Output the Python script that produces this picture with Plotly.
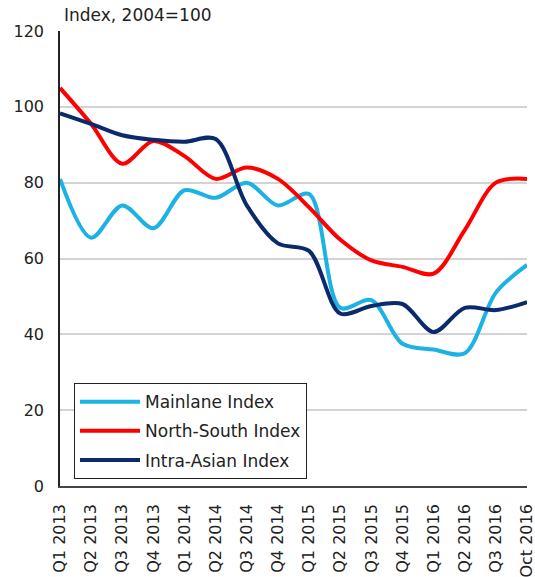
import plotly.graph_objects as go

categories = ["Q1 2013", "Q2 2013", "Q3 2013", "Q4 2013", "Q1 2014", "Q2 2014",
              "Q3 2014", "Q4 2014", "Q1 2015", "Q2 2015", "Q3 2015", "Q4 2015",
              "Q1 2016", "Q2 2016", "Q3 2016", "Oct 2016"]

mainlane = [81, 65.5, 74, 68, 78, 76, 80, 74, 77, 47, 49, 37.5, 36, 35, 51, 58.3]
north_south = [105, 95.5, 85, 91, 87, 81, 84, 81, 73.5, 65, 59.5, 57.8, 56, 67.5, 80, 81]
intra_asian = [98.3, 95.5, 92.5, 91.3, 90.8, 91.5, 74, 64, 62, 45.5, 47.5, 48, 40.6, 47, 46.4, 48.5]

y_ticks = [0, 20, 40, 60, 80, 100, 120]

series = [
    ("Mainlane Index", mainlane, "#1cb2e4"),
    ("North-South Index", north_south, "#ff0000"),
    ("Intra-Asian Index", intra_asian, "#0b2a6b"),
]

FONT = "DejaVu Sans, Liberation Sans, Arial, sans-serif"

fig = go.Figure()
for i, (name, vals, col) in enumerate(series):
    fig.add_trace(go.Scatter(
        x=categories, y=vals, name=name, mode="lines", legendgroup=f"g{i}",
        line=dict(color=col, width=4, shape="spline", smoothing=0.9),
    ))

fig.update_layout(
    width=535, height=577,
    margin=dict(l=60, r=8, t=31, b=91),
    paper_bgcolor="white", plot_bgcolor="white",
    font=dict(family=FONT, size=16, color="#222"),
    showlegend=True,
    legend=dict(
        x=0.03, y=0.226, xanchor="left", yanchor="top",
        bordercolor="#222", borderwidth=1, bgcolor="white",
        font=dict(family=FONT, size=17, color="#222"), itemwidth=60,
        traceorder="grouped", tracegroupgap=4,
    ),
    xaxis=dict(
        type="category", range=[0, 15], tickangle=-90,
        showgrid=False, showline=True, linecolor="#444", linewidth=1.5,
        ticks="", tickfont=dict(family=FONT, size=16, color="#222"),
        automargin=False, ticklabelstandoff=10,
    ),
    yaxis=dict(
        range=[0, 120], tickvals=y_ticks, showgrid=True,
        gridcolor="#d3d3d3", gridwidth=1.5, zeroline=False,
        showline=True, linecolor="#222", linewidth=1.5,
        ticks="", tickfont=dict(family=FONT, size=16, color="#222"),
        automargin=False, ticklabelstandoff=11,
    ),
    annotations=[dict(
        text="Index, 2004=100", xref="paper", yref="paper",
        x=0.0, y=1.0, xanchor="left", yanchor="bottom", yshift=4, xshift=2,
        showarrow=False, font=dict(family=FONT, size=17, color="#222"),
    )],
)

fig.write_html(
    "out.html",
    config={"displayModeBar": False},
    post_script="document.body.style.margin='0';document.body.style.padding='0';",
)
